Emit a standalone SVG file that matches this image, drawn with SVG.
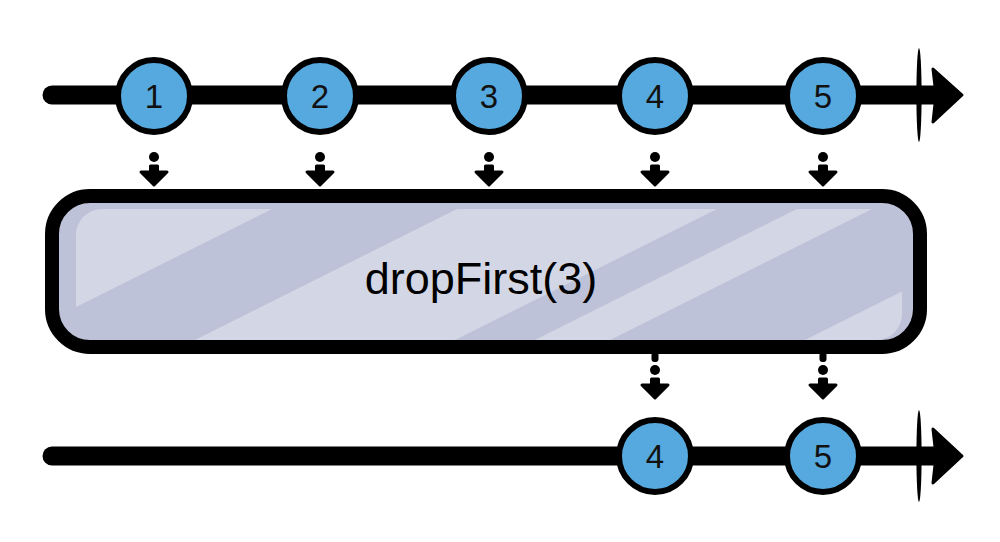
<svg xmlns="http://www.w3.org/2000/svg" width="1000" height="542" viewBox="0 0 1000 542">
  <style>
    .axis { stroke: #000; stroke-width: 19; stroke-linecap: round; fill: none; }
    .tick { fill: #000; }
    .head { fill: #000; stroke: #000; stroke-width: 3; stroke-linejoin: round; }
    .marble circle { fill: #56a9de; stroke: #000; stroke-width: 6; }
    .marble text { font-family: "Liberation Sans", "DejaVu Sans", sans-serif; font-size: 33px; fill: #111; text-anchor: middle; }
    .dot { fill: #000; }
    .op-label { font-family: "Liberation Sans", "DejaVu Sans", sans-serif; font-size: 45px; fill: #000; text-anchor: middle; }
  </style>
  <defs>
    <clipPath id="stripeClip">
      <rect x="76" y="209" width="826" height="131" rx="26"/>
    </clipPath>
    <g id="dropArrow">
      <circle class="dot" cx="0" cy="0" r="5"/>
      <path class="head" d="M-3.5,9 L3.5,9 L3.5,15 L13,15 L0,28 L-13,15 L-3.5,15 Z"/>
    </g>
  </defs>

  <rect width="1000" height="542" fill="#fff"/>

  <!-- top timeline -->
  <g id="top-timeline">
    <line class="axis" x1="52" y1="95" x2="938" y2="95"/>
    <ellipse class="tick" cx="919" cy="95" rx="2.6" ry="47"/>
    <path class="head" d="M933,69 L962,95 L933,122 L936,95 Z"/>
  </g>

  <!-- bottom timeline -->
  <g id="bottom-timeline">
    <line class="axis" x1="52" y1="456" x2="938" y2="456"/>
    <ellipse class="tick" cx="919" cy="456" rx="2.6" ry="46"/>
    <path class="head" d="M933,429 L962,456 L933,483 L936,456 Z"/>
  </g>

  <!-- connectors -->
  <g id="connectors">
    <use href="#dropArrow" x="154" y="157"/>
    <use href="#dropArrow" x="320" y="157"/>
    <use href="#dropArrow" x="489" y="157"/>
    <use href="#dropArrow" x="655" y="157"/>
    <use href="#dropArrow" x="823" y="157"/>
    <rect x="651.5" y="352" width="7" height="10" rx="3" fill="#000"/>
    <use href="#dropArrow" x="655" y="370"/>
    <rect x="819.5" y="352" width="7" height="10" rx="3" fill="#000"/>
    <use href="#dropArrow" x="823" y="370"/>
  </g>

  <!-- operator box -->
  <g id="operator">
    <rect x="52" y="196" width="868" height="151" rx="38" fill="#bec2d8"/>
    <g clip-path="url(#stripeClip)" fill="#d3d7e5">
      <polygon points="-1000,0 690,0 -510,600 -1000,600"/>
      <polygon points="875,0 1135,0 -65,600 -325,600"/>
      <polygon points="1215,0 1290,0 90,600 15,600"/>
      <polygon points="1485,0 2000,0 2000,600 285,600"/>
    </g>
    <rect x="52" y="196" width="868" height="151" rx="38" fill="none" stroke="#000" stroke-width="14"/>
    <text class="op-label" x="481" y="294">dropFirst(3)</text>
  </g>

  <!-- top marbles -->
  <g id="in-1" class="marble"><circle cx="154" cy="96" r="36"/><text x="154" y="108">1</text></g>
  <g id="in-2" class="marble"><circle cx="320" cy="96" r="36"/><text x="320" y="108">2</text></g>
  <g id="in-3" class="marble"><circle cx="489" cy="96" r="36"/><text x="489" y="108">3</text></g>
  <g id="in-4" class="marble"><circle cx="655" cy="96" r="36"/><text x="655" y="108">4</text></g>
  <g id="in-5" class="marble"><circle cx="823" cy="96" r="36"/><text x="823" y="108">5</text></g>

  <!-- bottom marbles -->
  <g id="out-4" class="marble"><circle cx="655" cy="456" r="36"/><text x="655" y="468">4</text></g>
  <g id="out-5" class="marble"><circle cx="823" cy="456" r="36"/><text x="823" y="468">5</text></g>
</svg>
